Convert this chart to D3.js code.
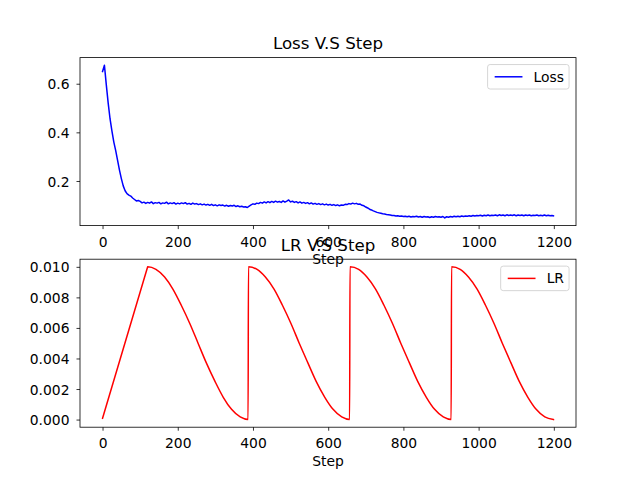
<!DOCTYPE html>
<html>
<head>
<meta charset="utf-8">
<script src="https://cdn.jsdelivr.net/npm/d3@7"></script>
<style>
  html, body { margin: 0; padding: 0; background: #fff; }
  svg { display: block; font-family: "DejaVu Sans", sans-serif; }
</style>
</head>
<body>
<svg id="chart" width="640" height="480"></svg>
<script>
// ---------------- data ----------------
const lossTitle = "Loss V.S Step";
const lrTitle = "LR V.S Step";
const xLabel = "Step";
const xTicks = [0, 200, 400, 600, 800, 1000, 1200];
const lossTicks = [0.2, 0.4, 0.6];
const lrTicks = [0.000, 0.002, 0.004, 0.006, 0.008, 0.010];

// loss sampled every 5 steps (0..1195) plus last step 1199
const lossSteps = d3.range(0, 1200, 5).concat([1199]);
const lossValues = [
  0.650, 0.676, 0.595, 0.520, 0.455, 0.405, 0.360, 0.325, 0.285, 0.245,
  0.210, 0.180, 0.160, 0.148, 0.142, 0.138, 0.130, 0.124, 0.118, 0.120,
  0.116, 0.110, 0.113, 0.108, 0.112, 0.109, 0.114, 0.107, 0.111, 0.109,
  0.112, 0.106, 0.110, 0.108, 0.113, 0.106, 0.110, 0.107, 0.111, 0.105,
  0.109, 0.106, 0.110, 0.107, 0.111, 0.105, 0.108, 0.104, 0.109, 0.105,
  0.107, 0.103, 0.106, 0.102, 0.105, 0.101, 0.104, 0.100, 0.104, 0.099,
  0.102, 0.098, 0.102, 0.099, 0.101, 0.097, 0.100, 0.096, 0.099, 0.097,
  0.100, 0.095, 0.098, 0.094, 0.096, 0.093, 0.094, 0.091, 0.097, 0.102,
  0.106, 0.104, 0.109, 0.107, 0.112, 0.109, 0.114, 0.110, 0.115, 0.111,
  0.116, 0.112, 0.117, 0.113, 0.116, 0.112, 0.118, 0.113, 0.117, 0.122,
  0.114, 0.117, 0.112, 0.115, 0.110, 0.114, 0.109, 0.112, 0.108, 0.111,
  0.106, 0.110, 0.105, 0.108, 0.104, 0.107, 0.103, 0.106, 0.102, 0.105,
  0.101, 0.104, 0.100, 0.103, 0.099, 0.102, 0.098, 0.101, 0.100, 0.104,
  0.103, 0.107, 0.105, 0.109, 0.106, 0.108, 0.104, 0.105, 0.100, 0.098,
  0.093, 0.089, 0.084, 0.081, 0.077, 0.074, 0.071, 0.069, 0.067, 0.065,
  0.064, 0.062, 0.061, 0.060, 0.058, 0.058, 0.056, 0.057, 0.055, 0.056,
  0.054, 0.055, 0.053, 0.055, 0.052, 0.054, 0.053, 0.055, 0.052, 0.054,
  0.051, 0.054, 0.052, 0.053, 0.050, 0.053, 0.051, 0.054, 0.052, 0.053,
  0.051, 0.054, 0.048, 0.053, 0.051, 0.054, 0.052, 0.055, 0.053, 0.055,
  0.053, 0.056, 0.054, 0.056, 0.055, 0.057, 0.055, 0.058, 0.056, 0.058,
  0.057, 0.059, 0.056, 0.059, 0.057, 0.060, 0.057, 0.059, 0.058, 0.060,
  0.057, 0.061, 0.058, 0.060, 0.057, 0.061, 0.058, 0.060, 0.058, 0.061,
  0.057, 0.060, 0.058, 0.060, 0.057, 0.060, 0.058, 0.060, 0.057, 0.059,
  0.058, 0.060, 0.057, 0.059, 0.057, 0.060, 0.057, 0.059, 0.057, 0.058,
  0.057
];

// learning-rate schedule (warm-up, then restarts)
const lrSteps = [
  0, 119, 120, 142, 165, 187, 209, 232, 254, 276, 299, 321, 343, 366, 387,
  388, 411, 433, 456, 478, 501, 523, 546, 568, 591, 613, 636, 657,
  658, 681, 703, 726, 748, 771, 793, 816, 838, 861, 883, 906, 927,
  928, 951, 973, 996, 1018, 1041, 1063, 1086, 1108, 1131, 1153, 1176, 1199
];
const lrValues = [
  0.00008, 0.00992, 0.01000, 0.00983, 0.00933, 0.00854, 0.00750, 0.00629, 0.00500, 0.00371, 0.00250, 0.00146, 0.00067, 0.00017, 0.00000,
  0.01000, 0.00983, 0.00933, 0.00854, 0.00750, 0.00629, 0.00500, 0.00371, 0.00250, 0.00146, 0.00067, 0.00017, 0.00000,
  0.01000, 0.00983, 0.00933, 0.00854, 0.00750, 0.00629, 0.00500, 0.00371, 0.00250, 0.00146, 0.00067, 0.00017, 0.00000,
  0.01000, 0.00983, 0.00933, 0.00854, 0.00750, 0.00629, 0.00500, 0.00371, 0.00250, 0.00146, 0.00067, 0.00017, 0.00000
];

// ---------------- layout ----------------
const svg = d3.select("#chart");
const W = 640, H = 480;
const left = 80, right = 576;
const axTop1 = 57.6, axBot1 = 225.6;
const axTop2 = 259.2, axBot2 = 427.2;
const tickFont = 13.89, titleFont = 16.67;

function padDomain(ext) {
  const d = ext[1] - ext[0];
  return [ext[0] - 0.05 * d, ext[1] + 0.05 * d];
}

function drawPanel(opts) {
  const { steps, values, top, bottom, yTicks, yFmt, color, title, legend, curve } = opts;
  const data = steps.map((s, i) => [s, values[i]]);
  const x = d3.scaleLinear().domain(padDomain(d3.extent(steps))).range([left, right]);
  const y = d3.scaleLinear().domain(padDomain(d3.extent(values))).range([bottom, top]);
  const g = svg.append("g");

  // line
  g.append("path")
    .datum(data)
    .attr("fill", "none")
    .attr("stroke", color)
    .attr("stroke-width", 1.5)
    .attr("stroke-linejoin", "round")
    .attr("stroke-linecap", "square")
    .attr("d", d3.line().x(d => x(d[0])).y(d => y(d[1])).curve(curve));

  // frame
  g.append("rect")
    .attr("x", left).attr("y", top)
    .attr("width", right - left).attr("height", bottom - top)
    .attr("fill", "none").attr("stroke", "#000").attr("stroke-width", 0.8);

  // x axis
  const xa = g.append("g").attr("transform", `translate(0,${bottom})`)
    .call(d3.axisBottom(x).tickValues(xTicks).tickSize(3.5).tickPadding(7).tickFormat(d3.format("d")));
  xa.select(".domain").remove();
  xa.selectAll(".tick line").attr("stroke", "#000").attr("stroke-width", 0.8);
  xa.selectAll(".tick text").attr("font-size", tickFont).attr("font-family", "DejaVu Sans")
    .attr("fill", "#000").attr("dy", null).attr("y", 21).attr("dominant-baseline", "alphabetic");

  // y axis
  const ya = g.append("g").attr("transform", `translate(${left},0)`)
    .call(d3.axisLeft(y).tickValues(yTicks).tickSize(3.5).tickPadding(7).tickFormat(d3.format(yFmt)));
  ya.select(".domain").remove();
  ya.selectAll(".tick line").attr("stroke", "#000").attr("stroke-width", 0.8);
  ya.selectAll(".tick text").attr("font-size", tickFont).attr("font-family", "DejaVu Sans")
    .attr("fill", "#000").attr("dy", "0.36em");

  // title
  g.append("text").attr("x", (left + right) / 2).attr("y", top - 8.33)
    .attr("text-anchor", "middle").attr("font-size", titleFont).attr("fill", "#000").text(title);

  // x label
  g.append("text").attr("x", (left + right) / 2).attr("y", bottom + 38.8)
    .attr("text-anchor", "middle").attr("font-size", tickFont).attr("fill", "#000").text(xLabel);

  // legend
  const lg = g.append("g");
  const box = lg.append("rect");
  const txt = lg.append("text").attr("font-size", tickFont).attr("fill", "#000").text(legend);
  const tw = txt.node().getComputedTextLength();
  const pad = 5.56, hl = 27.8, htp = 11.1;
  const bw = pad * 2 + hl + htp + tw + 1;
  const bh = 24.5;
  const bx = right - 6.94 - bw, by = top + 6.94;
  box.attr("x", bx).attr("y", by).attr("width", bw).attr("height", bh)
    .attr("rx", 2.5).attr("fill", "rgba(255,255,255,0.8)").attr("stroke", "#cccccc").attr("stroke-width", 0.8);
  lg.append("line").attr("x1", bx + pad + 1.5).attr("x2", bx + pad + 1.5 + hl)
    .attr("y1", by + bh / 2).attr("y2", by + bh / 2)
    .attr("stroke", color).attr("stroke-width", 1.5);
  txt.attr("x", bx + pad + 1.5 + hl + htp).attr("y", by + bh / 2 + 5);
}

drawPanel({
  steps: lossSteps, values: lossValues, top: axTop1, bottom: axBot1,
  yTicks: lossTicks, yFmt: ".1f", color: "#0000ff", title: lossTitle, legend: "Loss",
  curve: d3.curveLinear
});
drawPanel({
  steps: lrSteps, values: lrValues, top: axTop2, bottom: axBot2,
  yTicks: lrTicks, yFmt: ".3f", color: "#ff0000", title: lrTitle, legend: "LR",
  curve: d3.curveMonotoneX
});
</script>
</body>
</html>
